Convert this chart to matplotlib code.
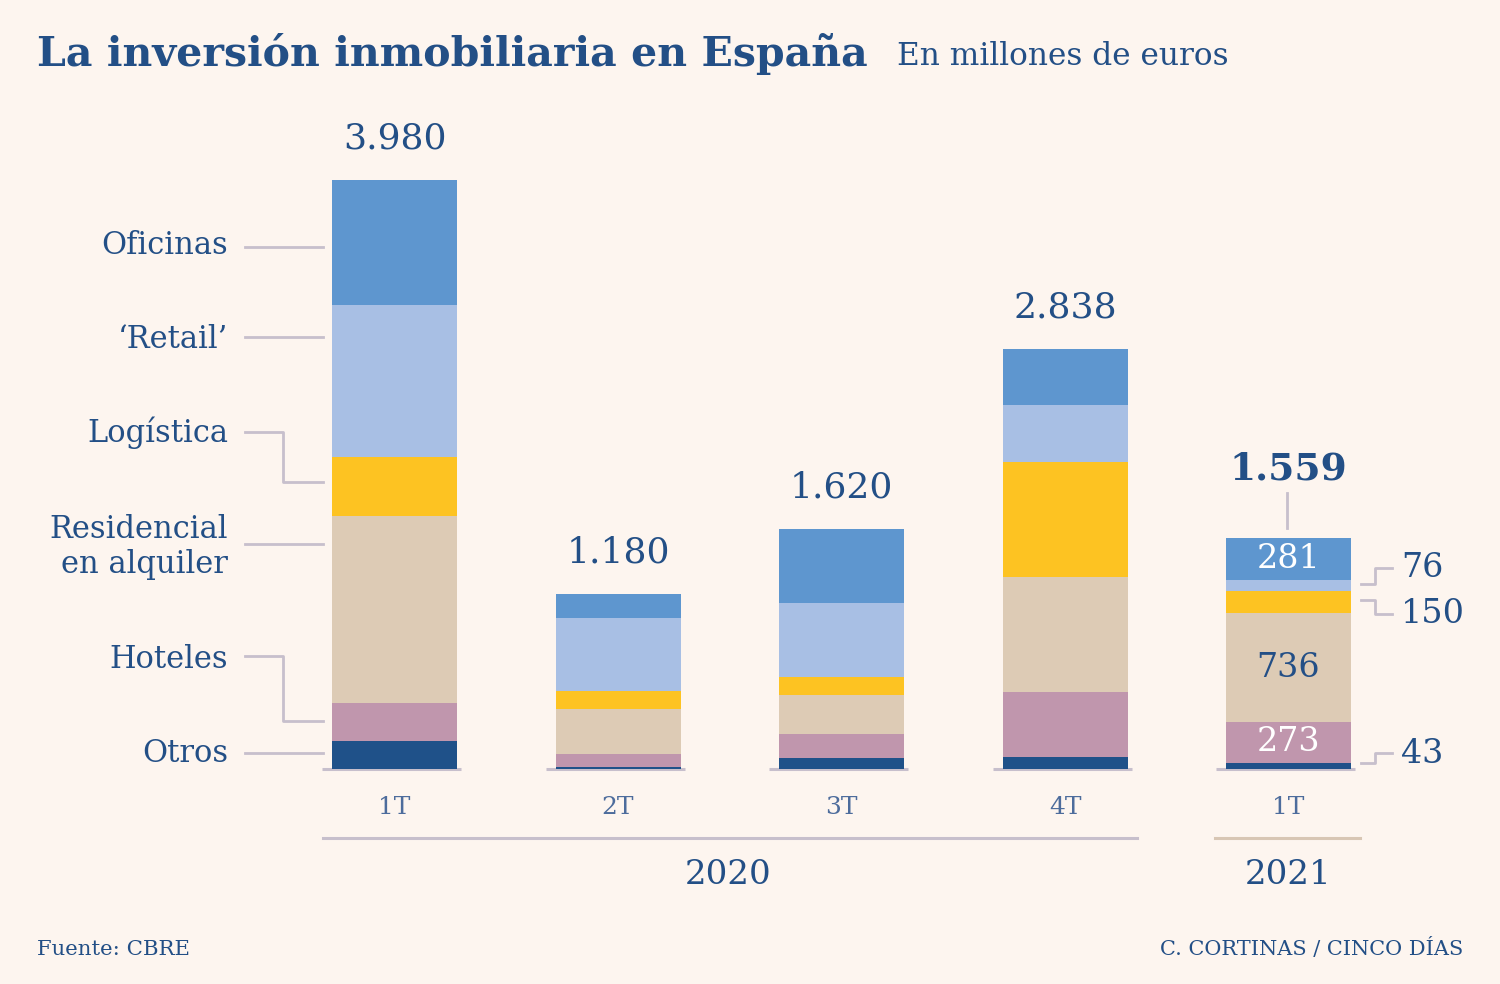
import matplotlib
matplotlib.use("Agg")
import matplotlib.pyplot as plt
from matplotlib.lines import Line2D

# ---- data ----
periods = ["1T", "2T", "3T", "4T", "1T"]
years = ["2020", "2021"]
categories = ["Otros", "Hoteles", "Residencial\nen alquiler", "Logística", "‘Retail’", "Oficinas"]
otros = [188, 11, 72, 81, 43]
hoteles = [257, 88, 162, 437, 273]
residencial = [1264, 304, 264, 782, 736]
logistica = [399, 122, 122, 775, 150]
retail = [1027, 493, 500, 385, 76]
oficinas = [845, 162, 500, 378, 281]
series = [otros, hoteles, residencial, logistica, retail, oficinas]
colors = ["#1f5189", "#c096ad", "#ddcbb5", "#fdc322", "#a8bfe4", "#5e96cf"]

BG = "#fdf5ef"
TXT = "#234f86"
TICK = "#4d6c9c"
LINE = "#c7bfcc"
W, H = 1500, 984
SERIF = "DejaVu Serif"

fig = plt.figure(figsize=(15, 9.84), dpi=100, facecolor=BG)

def fx(x):
    return x / W

def fy(y):
    return 1 - y / H

# axes: baseline at px 769
base_px = 769
top_px = 100
scale = 589 / 3980
ax = fig.add_axes([0, fy(base_px), 1, (base_px - top_px) / H])
ax.set_facecolor("none")
ax.set_ylim(0, (base_px - top_px) / scale)
x0, step = 394.5, 223.5
ax.set_xlim(-x0 / step, (W - x0) / step)
ax.axis("off")

xs = list(range(len(periods)))
bw = 125 / step
bottoms = [0] * len(xs)
for vals, col in zip(series, colors):
    ax.bar(xs, vals, width=bw, bottom=bottoms, color=col, linewidth=0, zorder=2)
    bottoms = [b + v for b, v in zip(bottoms, vals)]
totals = bottoms

# baseline under each bar
for x in xs:
    ax.plot([x - bw / 2 - 10 / step, x + bw / 2 + 4 / step], [0, 0], color=LINE, lw=2.2,
            solid_capstyle="butt", zorder=1, clip_on=False)

def fmt(v):
    return f"{v:,}".replace(",", ".")

# totals
for i, (x, t) in enumerate(zip(xs, totals)):
    last = i == len(xs) - 1
    off = 50 if last else 30
    ax.annotate(fmt(t), (x, t), xytext=(0, off), textcoords="offset points",
                ha="center", va="center", fontsize=27 if last else 26,
                fontweight="bold" if last else "normal", color=TXT, family=SERIF)
fig.add_artist(Line2D([fx(1287), fx(1287)], [fy(493), fy(528)], color=LINE, lw=2))

# inside labels for 2021
idx = len(xs) - 1
cum = 0
inside = {0: None, 1: "white", 2: TXT, 3: None, 4: None, 5: "white"}
for k, vals in enumerate(series):
    v = vals[idx]
    c = inside[k]
    if c:
        ax.text(xs[idx], cum + v / 2, str(v), ha="center", va="center",
                fontsize=24, color=c, family=SERIF, zorder=3)
    cum += v

# right side small labels for 2021
right_lbls = [(series[4][idx], 568, [(1361, 584), (1375, 584), (1375, 568), (1392, 568)]),
              (series[3][idx], 614, [(1361, 600), (1375, 600), (1375, 614), (1392, 614)]),
              (series[0][idx], 754, [(1361, 763), (1375, 763), (1375, 753), (1392, 753)])]
for v, ty, pts in right_lbls:
    fig.add_artist(Line2D([fx(p[0]) for p in pts], [fy(p[1]) for p in pts], color=LINE, lw=2))
    fig.text(fx(1401), fy(ty), str(v), ha="left", va="center", fontsize=24, color=TXT, family=SERIF)

# left category labels and connectors
left = [
    (categories[5], 246, [(245, 247), (323, 247)]),
    (categories[4], 339, [(245, 337), (323, 337)]),
    (categories[3], 433, [(245, 432), (283, 432), (283, 482), (323, 482)]),
    (categories[2], 547, [(245, 544), (323, 544)]),
    (categories[1], 660, [(245, 656), (283, 656), (283, 721), (323, 721)]),
    (categories[0], 754, [(245, 753), (323, 753)]),
]
for lbl, ty, pts in left:
    fig.add_artist(Line2D([fx(p[0]) for p in pts], [fy(p[1]) for p in pts], color=LINE, lw=2))
    fig.text(fx(228), fy(ty), lbl, ha="right", va="center", fontsize=22, color=TXT,
             family=SERIF, linespacing=1.2)

# period tick labels
for x, p in zip(xs, periods):
    ax.text(x, -(808 - base_px) / scale, p, ha="center", va="center", fontsize=18,
            color=TICK, family=SERIF, clip_on=False)

# year group lines and labels
fig.add_artist(Line2D([fx(323), fx(1137)], [fy(838), fy(838)], color=LINE, lw=2.2))
fig.add_artist(Line2D([fx(1215), fx(1360)], [fy(838), fy(838)], color="#d8c6b4", lw=2.2))
fig.text(fx(728), fy(875), years[0], ha="center", va="center", fontsize=24.5, color=TXT, family=SERIF)
fig.text(fx(1288), fy(875), years[1], ha="center", va="center", fontsize=24.5, color=TXT, family=SERIF)

# title
fig.text(fx(37), fy(66), "La inversión inmobiliaria en España", ha="left", va="baseline",
         fontsize=29.6, fontweight="bold", color=TXT, family=SERIF)
fig.text(fx(897), fy(65), "En millones de euros", ha="left", va="baseline",
         fontsize=22.5, color=TXT, family=SERIF)

# footer
fig.text(fx(37), fy(955), "Fuente: CBRE", ha="left", va="baseline", fontsize=15.3, color=TXT, family=SERIF)
fig.text(fx(1463), fy(955), "C. CORTINAS / CINCO DÍAS", ha="right", va="baseline", fontsize=15,
         color=TXT, family=SERIF)

fig.savefig("out.png", dpi=100, facecolor=BG)
